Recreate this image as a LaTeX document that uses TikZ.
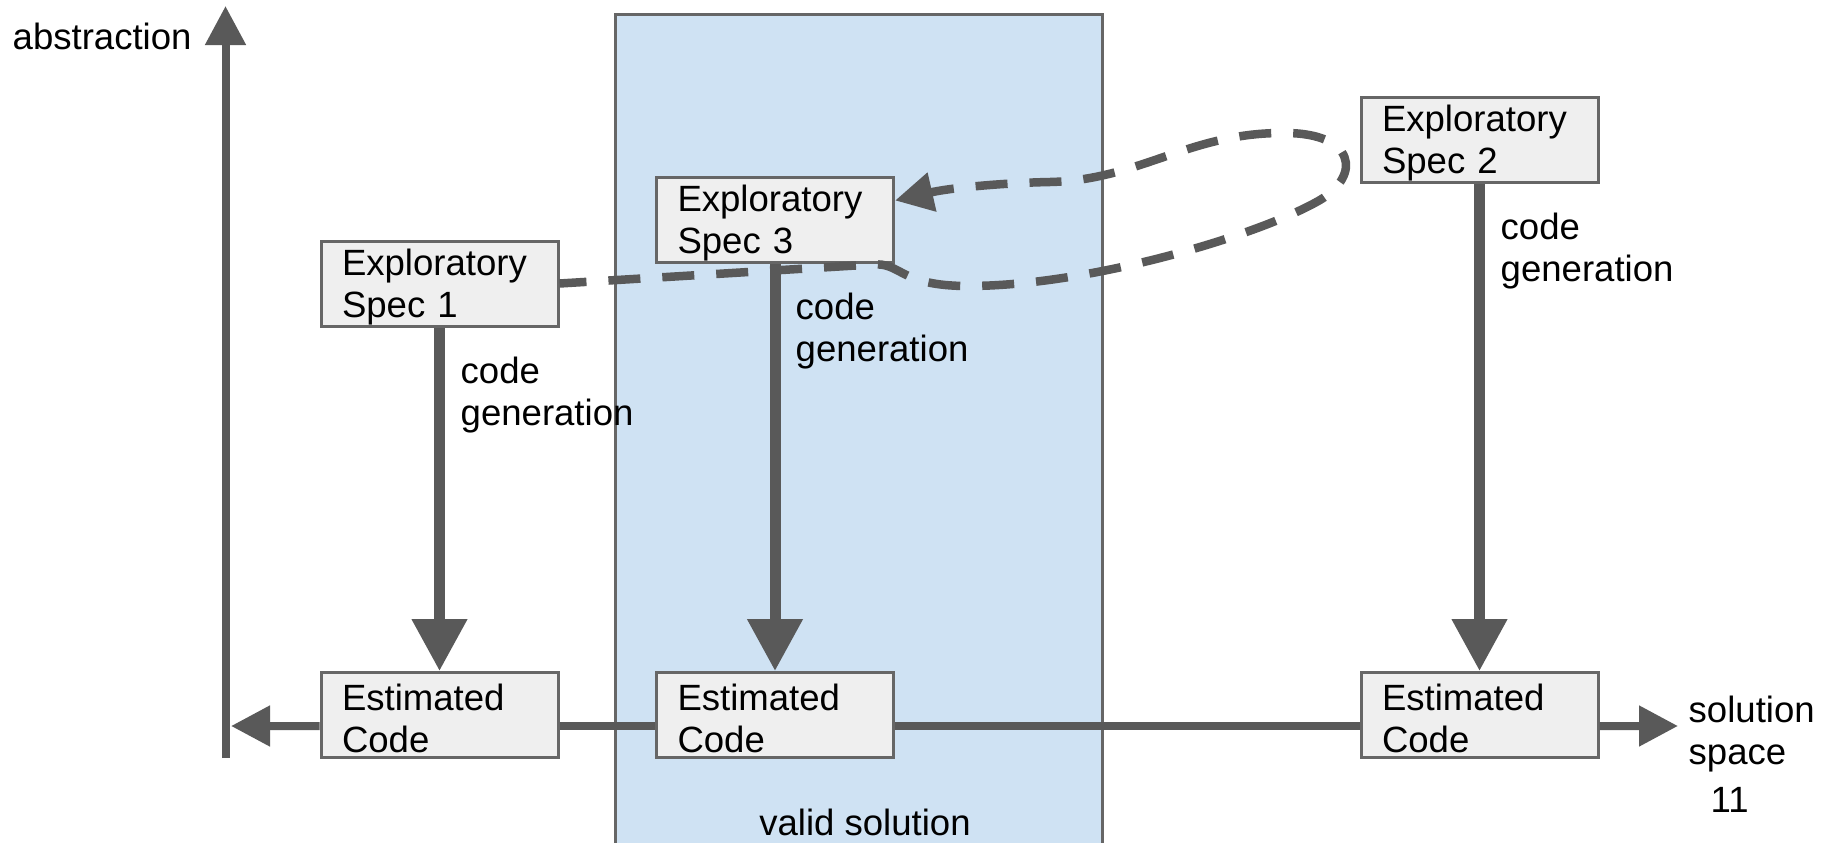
\documentclass[tikz,border=0pt]{standalone}
\usepackage{fontspec}
\setmainfont{Liberation Sans}
\usetikzlibrary{positioning,arrows.meta,backgrounds}
\definecolor{RegionBlue}{HTML}{CFE2F3}
\definecolor{BoxFill}{HTML}{EFEFEF}
\definecolor{BoxLine}{HTML}{666666}
\definecolor{ArrowGray}{HTML}{595959}
\definecolor{TextColor}{HTML}{000000}

\begin{document}
\begin{tikzpicture}[
    font=\fontsize{10.4pt}{12pt}\selectfont,
    specbox/.style={rectangle, draw=BoxLine, fill=BoxFill, line width=0.03cm, minimum width=2.37cm, minimum height=0.85cm, inner xsep=0.21cm, inner ysep=0pt, text width=1.95cm, align=left, execute at begin node={\rule{0pt}{0.33cm}}, text=TextColor},
    plainlabel/.style={inner sep=0pt, align=left, text=TextColor},
    region/.style={draw=BoxLine, fill=RegionBlue, line width=0.03cm},
    axisline/.style={draw=ArrowGray, line width=0.08cm},
    axisarrow/.style={axisline, -{Triangle[width=0.39cm, length=0.39cm]}},
    genarrow/.style={draw=ArrowGray, line width=0.11cm, -{Triangle[width=0.53cm, length=0.52cm]}},
    loopedge/.style={draw=ArrowGray, line width=0.085cm, dash pattern=on 0.32cm off 0.22cm, dash phase=0.05cm, -{Triangle[width=0.38cm, length=0.38cm]}}
]

\useasboundingbox (0,0) rectangle (18.24,-8.43);
\fill[white] (0,0) rectangle (18.24,-8.43);

\draw[region] (6.15,-0.15) rectangle (11.02,-8.70);
\node[plainlabel, anchor=base] (valid) at (8.65,-8.35) {valid solution};

\node[specbox] (spec1) at (4.395,-2.835) {Exploratory\\Spec 1};
\node[specbox] (spec3) at (7.75,-2.195) {Exploratory\\Spec 3};
\node[specbox] (spec2) at (14.795,-1.395) {Exploratory\\Spec 2};

\node[specbox] (est1) at (4.395,-7.15) {Estimated\\Code};
\node[specbox] (est2) at (7.75,-7.15) {Estimated\\Code};
\node[specbox] (est3) at (14.795,-7.15) {Estimated\\Code};

\coordinate (axbot) at (2.255,-7.58);
\coordinate (axtop) at (2.255,-0.06);
\coordinate (hleft) at (2.31,-7.26);
\coordinate (hright) at (16.78,-7.26);

\node[plainlabel, anchor=base west] (abstr) at (0.12,-0.50) {abstraction};
\node[plainlabel, anchor=north west] (solspace) at (16.88,-6.95) {solution\\space};
\node[plainlabel, anchor=base west] (pagenum) at (17.10,-8.12) {11};

\node[plainlabel, anchor=north west] (gen1) at (4.60,-3.56) {code\\generation};
\node[plainlabel, anchor=north west] (gen3) at (7.95,-2.92) {code\\generation};
\node[plainlabel, anchor=north west] (gen2) at (15.00,-2.12) {code\\generation};

\draw[axisarrow] (axbot) -- (axtop);
\draw[axisarrow] ([yshift=-0.11cm]est1.west) -- (hleft);
\draw[axisline] ([yshift=-0.11cm]est1.east) -- ([yshift=-0.11cm]est2.west);
\draw[axisline] ([yshift=-0.11cm]est2.east) -- ([yshift=-0.11cm]est3.west);
\draw[axisarrow] ([yshift=-0.11cm]est3.east) -- (hright);

\draw[genarrow] (spec1) -- (est1);
\draw[genarrow] (spec3) -- (est2);
\draw[genarrow] (spec2) -- (est3);

\draw[loopedge] (spec1.east) -- (8.72,-2.645)
    .. controls (9.02,-2.62) and (8.98,-2.86) .. (9.68,-2.86)
    .. controls (10.90,-2.86) and (12.60,-2.35) .. (13.20,-2.00)
    .. controls (13.62,-1.75) and (13.55,-1.33) .. (12.85,-1.33)
    .. controls (11.90,-1.32) and (11.40,-1.80) .. (10.50,-1.82)
    .. controls (10.00,-1.83) and (9.50,-1.88) .. ([yshift=-0.25cm]spec3.north east);

\end{tikzpicture}
\end{document}
